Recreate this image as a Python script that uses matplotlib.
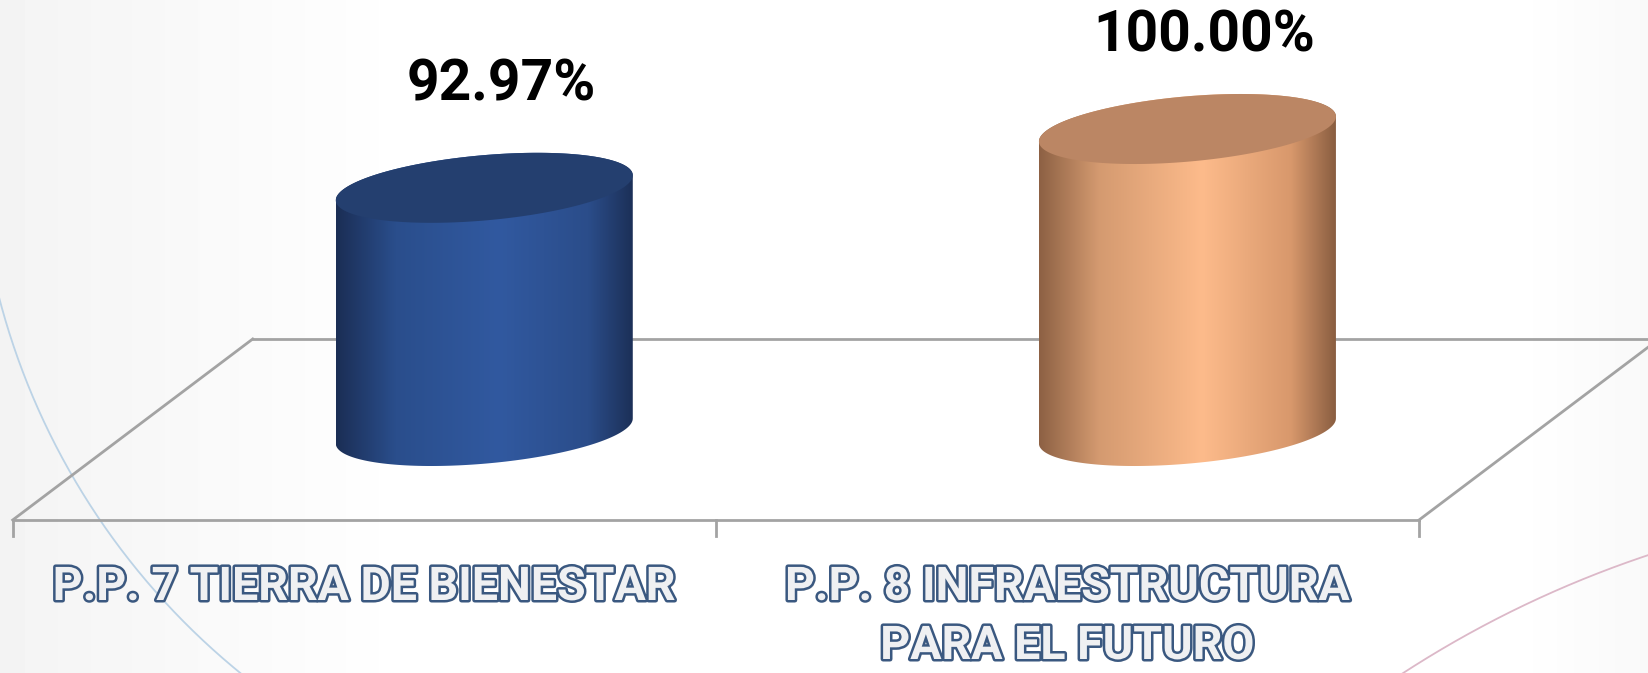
import numpy as np
import matplotlib
matplotlib.use("Agg")
import matplotlib.pyplot as plt
from matplotlib.patches import Polygon
from matplotlib.colors import LinearSegmentedColormap
import matplotlib.patheffects as pe

# Data
categories = ["P.P. 7 TIERRA DE BIENESTAR", "P.P. 8 INFRAESTRUCTURA\nPARA EL FUTURO"]
values = [92.97, 100.00]
value_labels = ["92.97%", "100.00%"]

side_colors = [
    ["#1b2e55", "#2a4e8c", "#3159a0", "#2b4d8a", "#1c3058"],
    ["#8d6144", "#d49a70", "#fdbb8b", "#d8986c", "#8a5e41"],
]
top_colors = ["#243f6f", "#bb8664"]

# Figure in pixel space (1648 x 673)
W, H = 1648, 673
fig = plt.figure(figsize=(W / 100, H / 100), dpi=100)
ax = fig.add_axes([0, 0, 1, 1])
ax.set_xlim(0, W)
ax.set_ylim(H, 0)
ax.axis("off")

# soft background shading
xs = np.linspace(0, 1, 200)
bg = 0.955 + 0.045 * np.clip(xs / 0.25, 0, 1)
bg = np.minimum(bg, 0.975 + 0.025 * np.clip((1 - xs) / 0.08, 0, 1))
ax.imshow(np.tile(bg, (10, 1)), cmap="gray", vmin=0, vmax=1,
          extent=[0, W, H, 0], aspect="auto", zorder=0)

# decorative arcs
th = np.radians(np.linspace(122, 176, 200))
ax.plot(693 + 717 * np.cos(th), 117 + 717 * np.sin(th), color="#bcd3e6", lw=1.3, zorder=1)
th = np.radians(np.linspace(230, 258, 200))
ax.plot(1988 + 1075 * np.cos(th), 1575 + 1075 * np.sin(th), color="#dcb8c8", lw=1.3, zorder=1)

# floor
front_y, back_y = 520, 339
x0, x1 = 12.7, 1419
depth_dx = 240
floor_c = "#a3a3a3"
ax.plot([x0, x1], [front_y, front_y], color=floor_c, lw=2, zorder=2)
ax.plot([x0 + depth_dx, x1 + depth_dx], [back_y, back_y], color=floor_c, lw=2, zorder=2)
ax.plot([x0, x0 + depth_dx], [front_y, back_y], color=floor_c, lw=2, zorder=2)
ax.plot([x1, x1 + depth_dx], [front_y, back_y], color=floor_c, lw=2, zorder=2)
n = len(categories)
for i in range(n + 1):
    tx = x0 + i * (x1 - x0) / n
    ax.plot([tx, tx], [front_y, front_y + 16], color=floor_c, lw=2, zorder=2)

# value axis mapping (axis floor / ceiling as in the original chart)
v_min, v_max = 63.9, 100.0
base_y = 431
full_h = 302
label_top_limit = 36


def val_to_y(v):
    return base_y - (v - v_min) / (v_max - v_min) * full_h


a, b, s = 148.5, 32.7, 12.5 / 148.5
t = np.linspace(0, 2 * np.pi, 200)
cat_w = (x1 - x0) / n

for i in range(n):
    cx = x0 + (i + 0.5) * cat_w + depth_dx / 2
    ty = val_to_y(values[i])
    tf = np.linspace(np.pi, 0, 100)
    bot = np.column_stack([cx + a * np.cos(tf), base_y + b * np.sin(tf) - s * a * np.cos(tf)])
    tb = np.linspace(0, -np.pi, 100)
    top = np.column_stack([cx + a * np.cos(tb), ty + b * np.sin(tb) - s * a * np.cos(tb)])
    body = Polygon(np.vstack([bot, top]), closed=True, fc="none", ec="none", zorder=3)
    ax.add_patch(body)
    cmap = LinearSegmentedColormap.from_list(
        "c%d" % i, list(zip([0, 0.2, 0.55, 0.85, 1.0], side_colors[i])))
    grad = np.linspace(0, 1, 256).reshape(1, -1)
    im = ax.imshow(grad, cmap=cmap, extent=[cx - a, cx + a, base_y + b + 20, ty - b - 20],
                   aspect="auto", zorder=3, interpolation="bilinear")
    im.set_clip_path(body)
    ell = np.column_stack([cx + a * np.cos(t), ty + b * np.sin(t) - s * a * np.cos(t)])
    ax.add_patch(Polygon(ell, closed=True, fc=top_colors[i], ec="none", zorder=4))
    # value label, kept inside the chart area
    ly = max(ty - 103, label_top_limit)
    ax.text(cx + 17, ly, value_labels[i], ha="center", va="center",
            fontsize=41, fontweight="bold", family="Roboto", color="black", zorder=5)

# category labels (outlined)
label_fx = [pe.SimplePatchShadow(offset=(1.5, -1.5), shadow_rgbFace="#808080", alpha=0.35),
            pe.Stroke(linewidth=3.6, foreground="#3a5880"), pe.Normal()]
for i, cat in enumerate(categories):
    lx = x0 + (i + 0.5) * cat_w
    for j, line in enumerate(cat.split("\n")):
        ax.text(lx, 600 + j * 59, line, ha="center", va="baseline", fontsize=33.5,
                fontweight="bold", family="Roboto", color="#eff0f2",
                path_effects=label_fx, zorder=5)

fig.savefig("out.png", dpi=100)
